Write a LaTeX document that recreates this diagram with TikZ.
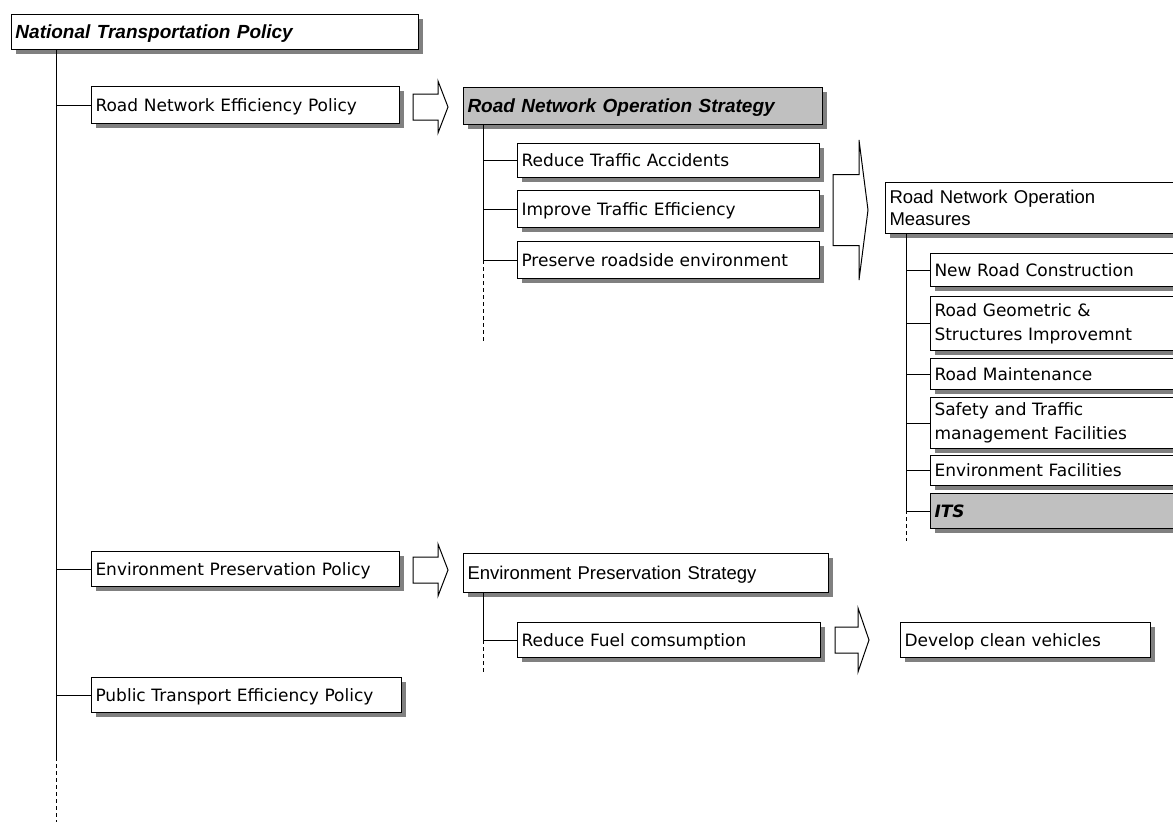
\documentclass[tikz,border=0pt]{standalone}
\usepackage{fontspec}
\setmainfont{Liberation Sans}
\newfontfamily\gothic{DejaVu Sans}
\usetikzlibrary{shadows}

\definecolor{shadowgray}{RGB}{128,128,128}
\definecolor{hilite}{RGB}{192,192,192}

% hollow block arrow: left x, centre y, shaft length, shaft half height, head half height, head length
\newcommand\fatarrow[6]{%
  \draw[line width=1pt, fill=white] (#1,#2) ++(0,-#4) -- ++(#3,0) -- ++(0,{#4-#5})
    -- ++(#6,#5) -- ++(-#6,#5) -- ++(0,{#4-#5}) -- ++(-#3,0) -- cycle;}

\begin{document}
\begin{tikzpicture}[
		x=1pt, y=-1pt,
		box/.style={draw, line width=1pt, fill=white, rectangle, anchor=north west,
			inner xsep=4pt, inner ysep=0pt, align=left, text depth=0pt,
			drop shadow={shadow xshift=4pt, shadow yshift=-4pt, fill=shadowgray, opacity=1}},
		head/.style={box, font=\fontsize{19}{22}\selectfont\bfseries\itshape},
		plain/.style={box, font=\fontsize{18.5}{22}\selectfont},
		item/.style={box, font=\gothic\fontsize{17}{24}\selectfont},
		twolines/.style={text depth={}},
		grey/.style={fill=hilite},
		tree/.style={line width=1pt},
		tail/.style={line width=0.9pt, dash pattern=on 4pt off 3pt}
	]
  \useasboundingbox (0,0) rectangle (1173,823);
  \clip (0,0) rectangle (1173,823);

  \node (nat) [head, text width=399pt, minimum height=35pt] at (11,14) {National Transportation Policy};
  \node (rnep) [item, text width=300pt, minimum height=37pt] at (91,86) {Road Network Efficiency Policy};
  \node (epp) [item, text width=300pt, minimum height=35pt] at (91,551) {Environment Preservation Policy};
  \node (ptep) [item, text width=302pt, minimum height=35pt] at (91,677) {Public Transport Efficiency Policy};

  \node (rnos) [head, grey, text width=351pt, minimum height=37pt] at (463,87) {Road Network Operation Strategy};
  \node (rta) [item, text width=294pt, minimum height=34pt] at (517,143) {Reduce Traffic Accidents};
  \node (ite) [item, text width=294pt, minimum height=37pt] at (517,190) {Improve Traffic Efficiency};
  \node (pre) [item, text width=294pt, minimum height=37pt] at (517,241) {Preserve roadside environment};

  \node (rnom) [plain, twolines, text width=300pt, minimum height=51pt] at (885,182) {Road Network Operation\\Measures};
  \node (nrc) [item, text width=260pt, minimum height=33pt] at (930,253) {New Road Construction};
  \node (rgs) [item, twolines, text width=260pt, minimum height=54pt] at (930,296) {Road Geometric \&\\Structures Improvemnt};
  \node (rm) [item, text width=260pt, minimum height=31pt] at (930,358) {Road Maintenance};
  \node (stm) [item, twolines, text width=260pt, minimum height=51pt] at (930,397) {Safety and Traffic\\management Facilities};
  \node (ef) [item, text width=260pt, minimum height=30pt] at (930,455) {Environment Facilities};
  \node (its) [item, grey, text width=260pt, minimum height=35pt, font=\gothic\fontsize{17}{24}\selectfont\bfseries\itshape] at (930,493) {ITS};

  \node (eps) [plain, text width=357pt, minimum height=39pt] at (463,553) {Environment Preservation Strategy};
  \node (rfc) [item, text width=295pt, minimum height=35pt] at (517,622) {Reduce Fuel comsumption};
  \node (dcv) [item, text width=242pt, minimum height=35pt] at (900,622) {Develop clean vehicles};

  % trees
  \coordinate (natEnd) at (56,757);
  \coordinate (natDash) at (56,822);
  \draw[tree] (nat.south -| natEnd) -- (natEnd);
  \draw[tail] (natEnd) -- (natDash);
  \foreach \n in {rnep, epp, ptep}
    \draw[tree] (\n.west -| natEnd) -- (\n.west);

  \coordinate (rnosEnd) at (483,260);
  \coordinate (rnosDash) at (483,342);
  \draw[tree] (rnos.south -| rnosEnd) -- (rnosEnd);
  \draw[tail] (rnosEnd) -- (rnosDash);
  \foreach \n in {rta, ite, pre}
    \draw[tree] (\n.west -| rnosEnd) -- (\n.west);

  \coordinate (rnomEnd) at (906,510);
  \coordinate (rnomDash) at (906,541);
  \draw[tree] (rnom.south -| rnomEnd) -- (rnomEnd);
  \draw[tail] (rnomEnd) -- (rnomDash);
  \foreach \n in {nrc, rgs, rm, stm, ef, its}
    \draw[tree] (\n.west -| rnomEnd) -- (\n.west);

  \coordinate (epsEnd) at (483,640);
  \coordinate (epsDash) at (483,673);
  \draw[tree] (eps.south -| epsEnd) -- (epsEnd);
  \draw[tail] (epsEnd) -- (epsDash);
  \draw[tree] (rfc.west -| epsEnd) -- (rfc.west);

  % block arrows
  \fatarrow{413}{107}{25}{13}{26}{10}
  \fatarrow{413}{570}{25}{13}{26}{10}
  \fatarrow{835}{640}{23}{13}{32}{11}
  \fatarrow{833}{210}{26}{35.5}{70}{9}
\end{tikzpicture}
\end{document}
